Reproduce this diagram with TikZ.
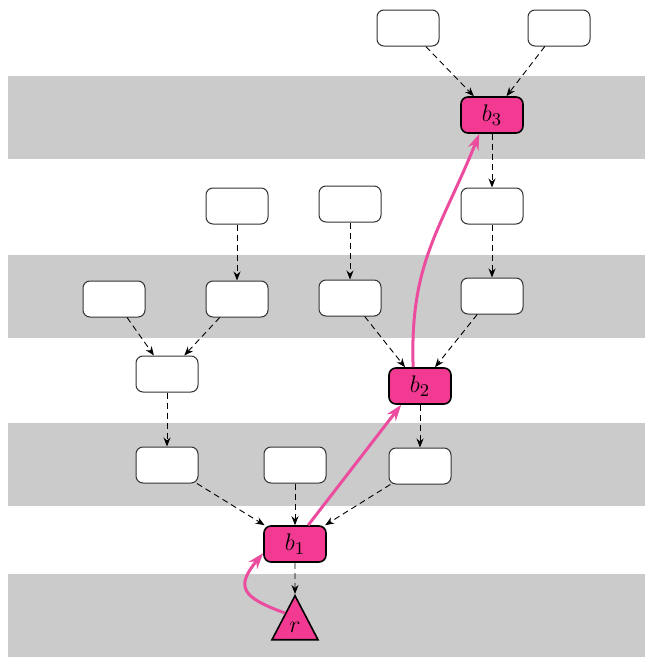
\documentclass[tikz,border=0pt]{standalone}
\usepackage{xcolor}
\usepackage{tikz}
\usepackage{amsmath}
\usetikzlibrary{arrows.meta, positioning, shapes.geometric}
\definecolor{blkpink}{HTML}{F33A92}
\definecolor{hoppink}{HTML}{EC4C9E}
\definecolor{bandgray}{HTML}{CBCBCB}
\definecolor{edgeslate}{HTML}{333333}
\tikzset{
  slot/.style={draw=edgeslate, line width=0.5pt, fill=white, rounded corners=3.5pt, minimum width=31pt, minimum height=18pt, inner sep=0pt},
  blk/.style={slot, draw=black, line width=0.8pt, fill=blkpink},
  dep/.style={densely dashed, line width=0.45pt, -{Stealth[length=4.5pt, width=3.5pt]}},
  hop/.style={hoppink, line width=1.5pt, -{Stealth[length=8pt, width=5.5pt]}},
  band/.style={fill=bandgray}
}

\begin{document}
\begin{tikzpicture}[x=0.5pt, y=-0.5pt, font=\fontsize{13}{15}\selectfont]
  \useasboundingbox (0,0) rectangle (657,664);
  % gray bands
  \fill[band] (8,76) rectangle (645,159);
  \fill[band] (8,255) rectangle (645,338);
  \fill[band] (8,423) rectangle (645,506);
  \fill[band] (8,574) rectangle (645,657);
  % boxes
  \node[slot] (u1) at (408,28) {};
  \node[slot] (u2) at (559,28) {};
  \node[blk] (b3) at (492,115) {$b_3$};
  \node[slot] (v1) at (237,206) {};
  \node[slot] (v2) at (350,204) {};
  \node[slot] (v3) at (492,206) {};
  \node[slot] (w1) at (114,299) {};
  \node[slot] (w2) at (237,299) {};
  \node[slot] (w3) at (350,298) {};
  \node[slot] (w4) at (492,296) {};
  \node[slot] (x1) at (167,374) {};
  \node[blk] (b2) at (420,386) {$b_2$};
  \node[slot] (y1) at (167,465) {};
  \node[slot] (y2) at (295,465) {};
  \node[slot] (y3) at (420,466) {};
  \node[blk] (b1) at (295,544) {$b_1$};
  \node[draw=black, line width=0.8pt, fill=blkpink, isosceles triangle, isosceles triangle apex angle=56, shape border rotate=90, isosceles triangle stretches, minimum width=23pt, minimum height=22pt, inner sep=0pt, anchor=apex] (r) at (295,594) {$r$};
  % dashed links
  \draw[dep] (u1) -- (b3);
  \draw[dep] (u2) -- (b3);
  \draw[dep] (b3) -- (v3);
  \draw[dep] (v3) -- (w4);
  \draw[dep] (w4) -- (b2);
  \draw[dep] (v2) -- (w3);
  \draw[dep] (w3) -- (b2);
  \draw[dep] (v1) -- (w2);
  \draw[dep] (w1) -- (x1);
  \draw[dep] (w2) -- (x1);
  \draw[dep] (x1) -- (y1);
  \draw[dep] (y1) -- (b1);
  \draw[dep] (y2) -- (b1);
  \draw[dep] (y3) -- (b1);
  \draw[dep] (b2) -- (y3);
  \draw[dep] (b1) -- (r);
  % pink hops
  \draw[hop] (r.125) to[out=160, in=-130, looseness=1.8] (b1.196);
  \draw[hop] (b1.55) -- (b2.225);
  \draw[hop] (b2.110) to[out=92, in=-112, looseness=1.1] (b3.236);
\end{tikzpicture}
\end{document}
